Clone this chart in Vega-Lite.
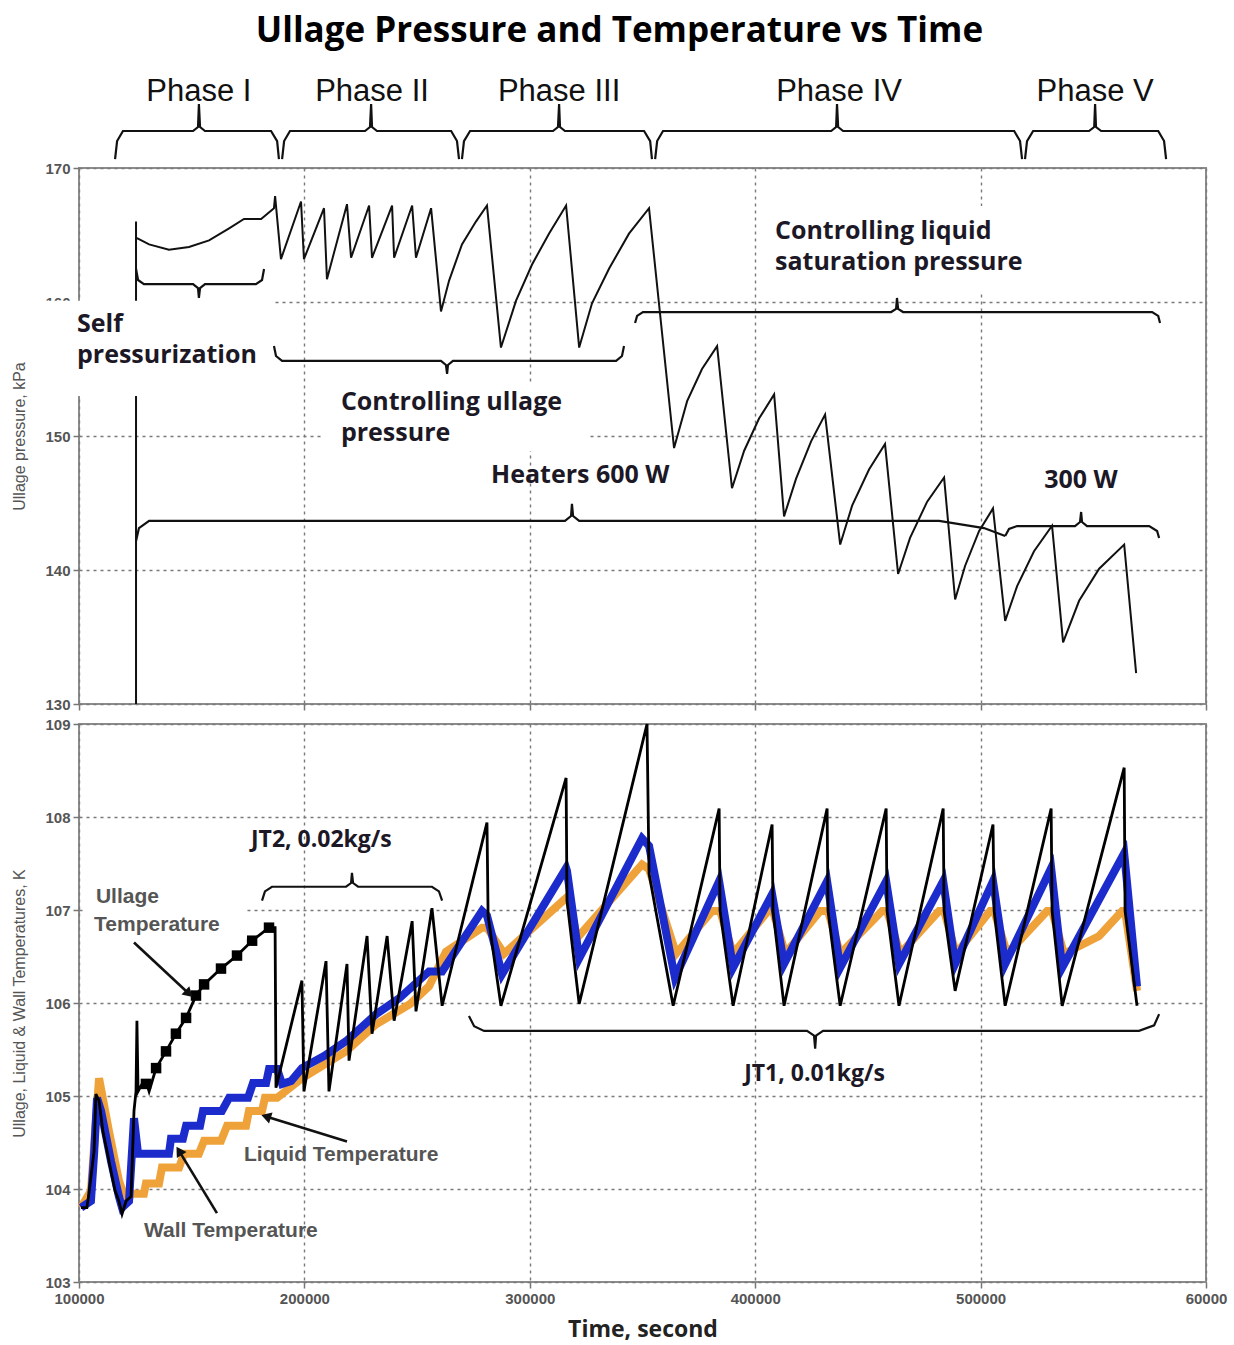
{
  "$schema": "https://vega.github.io/schema/vega-lite/v6.json",
  "title": {"text": "Ullage Pressure and Temperature vs Time", "font": "Open Sans", "fontSize": 35, "fontWeight": "bold", "color": "#000", "anchor": "middle", "offset": 26},
  "padding": {"left": 10, "top": 14, "right": 0, "bottom": 0},
  "bounds": "flush",
  "spacing": 20,
  "config": {
    "view": {"stroke": "#8c8c8c", "strokeWidth": 2},
    "axis": {"domain": false, "grid": true, "gridColor": "#7a7a7a", "gridDash": [3, 4], "gridWidth": 1.4, "tickColor": "#777", "tickSize": 6, "tickWidth": 1.5, "labelFont": "Liberation Sans", "labelFontWeight": "bold", "labelFontSize": 15, "labelColor": "#555", "labelPadding": 3, "titleFont": "Liberation Sans", "titleFontWeight": "normal", "titleFontSize": 16, "titleColor": "#555"}
  },
  "datasets": {
    "pressure": [
      {"t": 125300, "p": 130.0}, {"t": 125300, "p": 166.0}, {"t": 125300, "p": 164.8}, {"t": 131100, "p": 164.3}, {"t": 139900, "p": 163.9}, {"t": 148800, "p": 164.1}, {"t": 157700, "p": 164.6}, {"t": 166600, "p": 165.5}, {"t": 173200, "p": 166.2}, {"t": 180800, "p": 166.2}, {"t": 186500, "p": 167.0}, {"t": 187000, "p": 167.9}, {"t": 189600, "p": 163.2},
      {"t": 198500, "p": 167.5}, {"t": 199800, "p": 163.2}, {"t": 208700, "p": 167.0}, {"t": 210000, "p": 161.7}, {"t": 218900, "p": 167.3}, {"t": 220700, "p": 163.3}, {"t": 228700, "p": 167.2}, {"t": 230000, "p": 163.3}, {"t": 238900, "p": 167.2}, {"t": 239800, "p": 163.3}, {"t": 247800, "p": 167.2}, {"t": 249500, "p": 163.3}, {"t": 256200, "p": 167.0}, {"t": 260600, "p": 159.3},
      {"t": 264200, "p": 161.6}, {"t": 269900, "p": 164.3}, {"t": 276100, "p": 166.0}, {"t": 281000, "p": 167.2}, {"t": 287200, "p": 156.6}, {"t": 293900, "p": 160.1}, {"t": 301000, "p": 162.8}, {"t": 308500, "p": 165.1}, {"t": 316100, "p": 167.2}, {"t": 321900, "p": 156.6}, {"t": 327600, "p": 159.9}, {"t": 335200, "p": 162.5}, {"t": 344000, "p": 165.1}, {"t": 352900, "p": 167.0},
      {"t": 364000, "p": 149.1}, {"t": 369800, "p": 152.6}, {"t": 376400, "p": 155.0}, {"t": 383100, "p": 156.7}, {"t": 389700, "p": 146.1}, {"t": 395100, "p": 148.9}, {"t": 401700, "p": 151.3}, {"t": 408400, "p": 153.1}, {"t": 412800, "p": 144.0}, {"t": 418100, "p": 146.8}, {"t": 424800, "p": 149.6}, {"t": 431000, "p": 151.6},
      {"t": 437700, "p": 141.9}, {"t": 443000, "p": 144.8}, {"t": 450500, "p": 147.5}, {"t": 457600, "p": 149.4}, {"t": 463400, "p": 139.7}, {"t": 468700, "p": 142.4}, {"t": 476300, "p": 145.1}, {"t": 483800, "p": 146.9}, {"t": 488700, "p": 137.8}, {"t": 493100, "p": 140.3}, {"t": 499300, "p": 142.9}, {"t": 505500, "p": 144.6},
      {"t": 510900, "p": 136.2}, {"t": 516200, "p": 138.8}, {"t": 523700, "p": 141.4}, {"t": 531700, "p": 143.3}, {"t": 536600, "p": 134.6}, {"t": 543700, "p": 137.7}, {"t": 552600, "p": 140.1}, {"t": 563700, "p": 141.9}, {"t": 569000, "p": 132.3}
    ],
    "topBoxes": [
      {"t1": 80000, "t2": 186100, "p1": 160.1, "p2": 152.99},
      {"t1": 207400, "t2": 326300, "p1": 153.88, "p2": 148.88},
      {"t1": 403900, "t2": 521500, "p1": 167.16, "p2": 160.67}
    ],
    "topBraces": [
      {"b": "ph1", "t": 116000, "p": 170.67}, {"b": "ph1", "t": 116900, "p": 172.01}, {"b": "ph1", "t": 119500, "p": 172.76}, {"b": "ph1", "t": 150600, "p": 172.76}, {"b": "ph1", "t": 152800, "p": 173.06}, {"b": "ph1", "t": 153200, "p": 174.78}, {"b": "ph1", "t": 153700, "p": 173.06}, {"b": "ph1", "t": 155900, "p": 172.76}, {"b": "ph1", "t": 185200, "p": 172.76}, {"b": "ph1", "t": 187900, "p": 172.01}, {"b": "ph1", "t": 188700, "p": 170.67},
      {"b": "ph2", "t": 190100, "p": 170.67}, {"b": "ph2", "t": 191000, "p": 172.01}, {"b": "ph2", "t": 193600, "p": 172.76}, {"b": "ph2", "t": 226900, "p": 172.76}, {"b": "ph2", "t": 229100, "p": 173.06}, {"b": "ph2", "t": 229600, "p": 174.78}, {"b": "ph2", "t": 230000, "p": 173.06}, {"b": "ph2", "t": 232200, "p": 172.76}, {"b": "ph2", "t": 265100, "p": 172.76}, {"b": "ph2", "t": 267700, "p": 172.01}, {"b": "ph2", "t": 268600, "p": 170.67},
      {"b": "ph3", "t": 269900, "p": 170.67}, {"b": "ph3", "t": 270800, "p": 172.01}, {"b": "ph3", "t": 273500, "p": 172.76}, {"b": "ph3", "t": 310300, "p": 172.76}, {"b": "ph3", "t": 312500, "p": 173.06}, {"b": "ph3", "t": 313000, "p": 174.78}, {"b": "ph3", "t": 313400, "p": 173.06}, {"b": "ph3", "t": 315600, "p": 172.76}, {"b": "ph3", "t": 350700, "p": 172.76}, {"b": "ph3", "t": 353400, "p": 172.01}, {"b": "ph3", "t": 354200, "p": 170.67},
      {"b": "ph4", "t": 355600, "p": 170.67}, {"b": "ph4", "t": 356500, "p": 172.01}, {"b": "ph4", "t": 359100, "p": 172.76}, {"b": "ph4", "t": 433700, "p": 172.76}, {"b": "ph4", "t": 435900, "p": 173.06}, {"b": "ph4", "t": 436300, "p": 174.78}, {"b": "ph4", "t": 436800, "p": 173.06}, {"b": "ph4", "t": 439000, "p": 172.76}, {"b": "ph4", "t": 514900, "p": 172.76}, {"b": "ph4", "t": 517500, "p": 172.01}, {"b": "ph4", "t": 518400, "p": 170.67},
      {"b": "ph5", "t": 519700, "p": 170.67}, {"b": "ph5", "t": 520600, "p": 172.01}, {"b": "ph5", "t": 523300, "p": 172.76}, {"b": "ph5", "t": 548100, "p": 172.76}, {"b": "ph5", "t": 550400, "p": 173.06}, {"b": "ph5", "t": 550800, "p": 174.78}, {"b": "ph5", "t": 551200, "p": 173.06}, {"b": "ph5", "t": 553500, "p": 172.76}, {"b": "ph5", "t": 578800, "p": 172.76}, {"b": "ph5", "t": 581400, "p": 172.01}, {"b": "ph5", "t": 582300, "p": 170.67},
      {"b": "self", "t": 125300, "p": 162.46}, {"b": "self", "t": 126200, "p": 161.64}, {"b": "self", "t": 128800, "p": 161.34}, {"b": "self", "t": 150600, "p": 161.34}, {"b": "self", "t": 152800, "p": 161.04}, {"b": "self", "t": 153200, "p": 160.3}, {"b": "self", "t": 153700, "p": 161.04}, {"b": "self", "t": 155900, "p": 161.34}, {"b": "self", "t": 178500, "p": 161.34}, {"b": "self", "t": 181200, "p": 161.64}, {"b": "self", "t": 182100, "p": 162.46},
      {"b": "ullage", "t": 186500, "p": 156.72}, {"b": "ullage", "t": 187400, "p": 155.97}, {"b": "ullage", "t": 190100, "p": 155.6}, {"b": "ullage", "t": 260600, "p": 155.6}, {"b": "ullage", "t": 262800, "p": 155.3}, {"b": "ullage", "t": 263300, "p": 154.63}, {"b": "ullage", "t": 263700, "p": 155.3}, {"b": "ullage", "t": 265900, "p": 155.6}, {"b": "ullage", "t": 338300, "p": 155.6}, {"b": "ullage", "t": 340900, "p": 155.97}, {"b": "ullage", "t": 341800, "p": 156.72},
      {"b": "liquid", "t": 346700, "p": 158.43}, {"b": "liquid", "t": 347600, "p": 158.96}, {"b": "liquid", "t": 350200, "p": 159.25}, {"b": "liquid", "t": 460300, "p": 159.25}, {"b": "liquid", "t": 462500, "p": 159.48}, {"b": "liquid", "t": 462900, "p": 160.3}, {"b": "liquid", "t": 463400, "p": 159.48}, {"b": "liquid", "t": 465600, "p": 159.25}, {"b": "liquid", "t": 576100, "p": 159.25}, {"b": "liquid", "t": 578800, "p": 158.96}, {"b": "liquid", "t": 579600, "p": 158.43},
      {"b": "heat600", "t": 125300, "p": 142.16}, {"b": "heat600", "t": 126600, "p": 143.13}, {"b": "heat600", "t": 131100, "p": 143.66}, {"b": "heat600", "t": 315600, "p": 143.66}, {"b": "heat600", "t": 318300, "p": 144.03}, {"b": "heat600", "t": 318700, "p": 144.93}, {"b": "heat600", "t": 319200, "p": 144.03}, {"b": "heat600", "t": 321900, "p": 143.66}, {"b": "heat600", "t": 481600, "p": 143.66}, {"b": "heat600", "t": 501500, "p": 143.13}, {"b": "heat600", "t": 510900, "p": 142.54},
      {"b": "heat300", "t": 510900, "p": 142.54}, {"b": "heat300", "t": 512600, "p": 143.06}, {"b": "heat300", "t": 516200, "p": 143.28}, {"b": "heat300", "t": 541900, "p": 143.28}, {"b": "heat300", "t": 544100, "p": 143.58}, {"b": "heat300", "t": 544600, "p": 144.33}, {"b": "heat300", "t": 545000, "p": 143.58}, {"b": "heat300", "t": 547200, "p": 143.28}, {"b": "heat300", "t": 574800, "p": 143.28}, {"b": "heat300", "t": 578300, "p": 142.91}, {"b": "heat300", "t": 579200, "p": 142.39}
    ],
    "phaseLabels": [
      {"label": "Phase I", "t": 153200, "p": 175.0},
      {"label": "Phase II", "t": 230000, "p": 175.0},
      {"label": "Phase III", "t": 313000, "p": 175.0},
      {"label": "Phase IV", "t": 437200, "p": 175.0},
      {"label": "Phase V", "t": 550800, "p": 175.0}
    ],
    "topNotes": [
      {"label": "Self", "t": 99100, "p": 157.76},
      {"label": "pressurization", "t": 99100, "p": 155.45},
      {"label": "Controlling ullage", "t": 216200, "p": 151.94},
      {"label": "pressure", "t": 216200, "p": 149.63},
      {"label": "Heaters 600 W", "t": 282800, "p": 146.51},
      {"label": "Controlling liquid", "t": 408800, "p": 164.7},
      {"label": "saturation pressure", "t": 408800, "p": 162.39},
      {"label": "300 W", "t": 528200, "p": 146.12}
    ],
    "wall": [
      {"t": 100900, "v": 103.8}, {"t": 105300, "v": 103.98}, {"t": 107500, "v": 104.73}, {"t": 108900, "v": 105.19}, {"t": 113300, "v": 104.62}, {"t": 117700, "v": 104.09}, {"t": 120900, "v": 103.87}, {"t": 123500, "v": 103.95}, {"t": 128800, "v": 103.95}, {"t": 129700, "v": 104.06}, {"t": 135500, "v": 104.06}, {"t": 136800, "v": 104.23}, {"t": 144400, "v": 104.23}, {"t": 146600, "v": 104.38}, {"t": 153200, "v": 104.38}, {"t": 155500, "v": 104.52}, {"t": 163000, "v": 104.52}, {"t": 165700, "v": 104.68}, {"t": 174100, "v": 104.68}, {"t": 175400, "v": 104.84}, {"t": 181200, "v": 104.84}, {"t": 182500, "v": 104.98}, {"t": 187900, "v": 104.98},
      {"t": 198900, "v": 105.19}, {"t": 218500, "v": 105.48}, {"t": 231800, "v": 105.77}, {"t": 246900, "v": 105.99}, {"t": 255300, "v": 106.18}, {"t": 262800, "v": 106.55},
      {"t": 278800, "v": 106.81}, {"t": 281000, "v": 106.81}, {"t": 288600, "v": 106.53}, {"t": 316100, "v": 107.13}, {"t": 317400, "v": 107.1}, {"t": 321000, "v": 106.7}, {"t": 349800, "v": 107.49}, {"t": 352900, "v": 107.44}, {"t": 364900, "v": 106.53},
      {"t": 380900, "v": 106.99}, {"t": 384400, "v": 106.99}, {"t": 390200, "v": 106.53}, {"t": 405700, "v": 106.99}, {"t": 407900, "v": 106.99}, {"t": 413300, "v": 106.53}, {"t": 428800, "v": 106.99}, {"t": 432300, "v": 106.99}, {"t": 437700, "v": 106.53}, {"t": 456300, "v": 106.99}, {"t": 458500, "v": 106.99}, {"t": 464300, "v": 106.53}, {"t": 481600, "v": 106.99}, {"t": 483800, "v": 106.99}, {"t": 489100, "v": 106.53}, {"t": 504200, "v": 106.99}, {"t": 506000, "v": 106.99}, {"t": 511800, "v": 106.53}, {"t": 529500, "v": 106.99}, {"t": 531700, "v": 106.99}, {"t": 537000, "v": 106.53}, {"t": 552600, "v": 106.72}, {"t": 562800, "v": 106.99}, {"t": 564100, "v": 106.99}, {"t": 569400, "v": 106.13}
    ],
    "liquid": [
      {"t": 100900, "v": 103.8}, {"t": 105300, "v": 103.87}, {"t": 106700, "v": 104.38}, {"t": 108000, "v": 104.98}, {"t": 109800, "v": 104.84}, {"t": 114200, "v": 104.3}, {"t": 117700, "v": 103.92}, {"t": 119100, "v": 103.8}, {"t": 122200, "v": 103.87}, {"t": 124400, "v": 104.76}, {"t": 126200, "v": 104.38}, {"t": 139900, "v": 104.38}, {"t": 140800, "v": 104.54}, {"t": 146100, "v": 104.54}, {"t": 147500, "v": 104.68}, {"t": 153700, "v": 104.68}, {"t": 155000, "v": 104.84}, {"t": 163400, "v": 104.84}, {"t": 166600, "v": 104.98}, {"t": 175000, "v": 104.98}, {"t": 177200, "v": 105.14}, {"t": 183000, "v": 105.14}, {"t": 184300, "v": 105.29}, {"t": 187900, "v": 105.29},
      {"t": 190100, "v": 105.13}, {"t": 194100, "v": 105.16}, {"t": 198900, "v": 105.3}, {"t": 208700, "v": 105.43}, {"t": 218500, "v": 105.59}, {"t": 231800, "v": 105.88}, {"t": 242000, "v": 106.05}, {"t": 255300, "v": 106.34}, {"t": 261100, "v": 106.34},
      {"t": 278800, "v": 106.99}, {"t": 281000, "v": 106.94}, {"t": 287700, "v": 106.31}, {"t": 316100, "v": 107.45}, {"t": 316500, "v": 107.42}, {"t": 321900, "v": 106.48}, {"t": 349800, "v": 107.77}, {"t": 352900, "v": 107.69}, {"t": 364400, "v": 106.27},
      {"t": 384000, "v": 107.31}, {"t": 390200, "v": 106.38}, {"t": 407500, "v": 107.17}, {"t": 412800, "v": 106.42}, {"t": 431900, "v": 107.31}, {"t": 437700, "v": 106.38}, {"t": 458100, "v": 107.31}, {"t": 463800, "v": 106.42}, {"t": 483400, "v": 107.31}, {"t": 488700, "v": 106.42}, {"t": 505500, "v": 107.31}, {"t": 510900, "v": 106.42}, {"t": 531300, "v": 107.45}, {"t": 536200, "v": 106.38}, {"t": 563700, "v": 107.61}, {"t": 569400, "v": 106.18}
    ],
    "ullage": [
      {"t": 100900, "v": 103.8}, {"t": 103500, "v": 103.8}, {"t": 104400, "v": 103.95}, {"t": 106700, "v": 104.41}, {"t": 107500, "v": 105.02}, {"t": 108900, "v": 104.95}, {"t": 110600, "v": 104.62}, {"t": 112400, "v": 104.41}, {"t": 114200, "v": 104.19}, {"t": 116000, "v": 103.98}, {"t": 117700, "v": 103.87}, {"t": 119100, "v": 103.73}, {"t": 120900, "v": 103.87}, {"t": 123100, "v": 103.92}, {"t": 124400, "v": 104.84}, {"t": 125300, "v": 105.05}, {"t": 125700, "v": 105.81}, {"t": 126200, "v": 105.05}, {"t": 128000, "v": 105.13}, {"t": 129700, "v": 105.16}, {"t": 131100, "v": 105.05},
      {"t": 134200, "v": 105.3}, {"t": 138600, "v": 105.48}, {"t": 143000, "v": 105.67}, {"t": 147500, "v": 105.84}, {"t": 151900, "v": 106.08}, {"t": 155500, "v": 106.2}, {"t": 163000, "v": 106.37}, {"t": 170100, "v": 106.51}, {"t": 176800, "v": 106.67}, {"t": 184300, "v": 106.81}, {"t": 187000, "v": 106.81}, {"t": 187400, "v": 105.09},
      {"t": 198900, "v": 106.24}, {"t": 199800, "v": 105.05}, {"t": 209600, "v": 106.45}, {"t": 210900, "v": 105.05}, {"t": 218900, "v": 106.42}, {"t": 219800, "v": 105.38}, {"t": 227800, "v": 106.72}, {"t": 230000, "v": 105.67}, {"t": 236700, "v": 106.72}, {"t": 239800, "v": 105.81}, {"t": 247800, "v": 106.88}, {"t": 249500, "v": 105.91}, {"t": 256600, "v": 107.02}, {"t": 261100, "v": 105.97},
      {"t": 281000, "v": 107.94}, {"t": 281500, "v": 106.94}, {"t": 287200, "v": 105.97}, {"t": 316100, "v": 108.42}, {"t": 316500, "v": 107.1}, {"t": 321900, "v": 105.99}, {"t": 352000, "v": 109.0}, {"t": 352900, "v": 107.39}, {"t": 363600, "v": 105.97},
      {"t": 384000, "v": 108.09}, {"t": 384400, "v": 106.99}, {"t": 390200, "v": 105.97}, {"t": 407500, "v": 107.92}, {"t": 407900, "v": 106.99}, {"t": 412800, "v": 105.97}, {"t": 431900, "v": 108.09}, {"t": 432300, "v": 106.99}, {"t": 437700, "v": 105.97}, {"t": 458100, "v": 108.09}, {"t": 458500, "v": 106.99}, {"t": 463800, "v": 105.97}, {"t": 483400, "v": 108.09}, {"t": 483800, "v": 106.99}, {"t": 488700, "v": 106.13}, {"t": 505500, "v": 107.92}, {"t": 506000, "v": 106.99}, {"t": 510900, "v": 105.97}, {"t": 531300, "v": 108.09}, {"t": 531700, "v": 106.99}, {"t": 536200, "v": 105.97}, {"t": 563700, "v": 108.53}, {"t": 564100, "v": 106.99}, {"t": 569400, "v": 105.97}
    ],
    "ullageSteps": [
      {"t": 129700, "v": 105.13}, {"t": 134200, "v": 105.3}, {"t": 138600, "v": 105.48}, {"t": 143000, "v": 105.67}, {"t": 147500, "v": 105.84}, {"t": 151900, "v": 106.08}, {"t": 155500, "v": 106.2}, {"t": 163000, "v": 106.37}, {"t": 170100, "v": 106.51}, {"t": 176800, "v": 106.67}, {"t": 184300, "v": 106.81}
    ],
    "bottomBoxes": [
      {"t1": 102200, "t2": 174500, "v1": 107.31, "v2": 106.69}
    ],
    "bottomBraces": [
      {"b": "jt2", "t": 181200, "v": 107.1}, {"b": "jt2", "t": 182500, "v": 107.2}, {"b": "jt2", "t": 185600, "v": 107.25}, {"b": "jt2", "t": 218500, "v": 107.25}, {"b": "jt2", "t": 220700, "v": 107.29}, {"b": "jt2", "t": 221100, "v": 107.4}, {"b": "jt2", "t": 221600, "v": 107.29}, {"b": "jt2", "t": 223800, "v": 107.25}, {"b": "jt2", "t": 256600, "v": 107.25}, {"b": "jt2", "t": 259700, "v": 107.2}, {"b": "jt2", "t": 261100, "v": 107.1},
      {"b": "jt1", "t": 273000, "v": 105.86}, {"b": "jt1", "t": 275300, "v": 105.75}, {"b": "jt1", "t": 279700, "v": 105.7}, {"b": "jt1", "t": 423000, "v": 105.7}, {"b": "jt1", "t": 426100, "v": 105.65}, {"b": "jt1", "t": 426600, "v": 105.51}, {"b": "jt1", "t": 427000, "v": 105.65}, {"b": "jt1", "t": 430100, "v": 105.7}, {"b": "jt1", "t": 570300, "v": 105.7}, {"b": "jt1", "t": 577000, "v": 105.76}, {"b": "jt1", "t": 579200, "v": 105.88}
    ],
    "arrows": [
      {"a": "ullage", "t": 124400, "v": 106.65}, {"a": "ullage", "t": 148800, "v": 106.1},
      {"a": "liquid", "t": 218900, "v": 104.51}, {"a": "liquid", "t": 183000, "v": 104.78},
      {"a": "wall", "t": 161200, "v": 103.74}, {"a": "wall", "t": 144400, "v": 104.41}
    ],
    "arrowTips": [
      {"a": "ullage", "t": 148800, "v": 106.1},
      {"a": "liquid", "t": 183000, "v": 104.78},
      {"a": "wall", "t": 144400, "v": 104.41}
    ],
    "bottomNotesBold": [
      {"label": "JT2, 0.02kg/s", "t": 176300, "v": 107.68},
      {"label": "JT1, 0.01kg/s", "t": 395100, "v": 105.16}
    ],
    "bottomNotesGray": [
      {"label": "Ullage", "t": 107500, "v": 107.08},
      {"label": "Temperature", "t": 106700, "v": 106.77},
      {"label": "Liquid Temperature", "t": 173200, "v": 104.3},
      {"label": "Wall Temperature", "t": 128800, "v": 103.48}
    ]
  },
  "vconcat": [
    {
      "width": 1127,
      "height": 536,
      "layer": [
        {
          "data": {"name": "pressure"},
          "mark": {"type": "line", "color": "#111", "strokeWidth": 2},
          "encoding": {
            "x": {"field": "t", "type": "quantitative", "scale": {"domain": [100000, 600000], "nice": false, "zero": false}, "axis": {"values": [100000, 200000, 300000, 400000, 500000, 600000], "labels": false, "title": null}},
            "y": {"field": "p", "type": "quantitative", "scale": {"domain": [130, 170], "nice": false, "zero": false}, "axis": {"values": [130, 140, 150, 160, 170], "format": "d", "title": "Ullage pressure, kPa", "titlePadding": 17}},
            "order": {"value": null}
          }
        },
        {
          "data": {"name": "topBoxes"},
          "mark": {"type": "rect", "fill": "white"},
          "encoding": {
            "x": {"field": "t1", "type": "quantitative"}, "x2": {"field": "t2"},
            "y": {"field": "p1", "type": "quantitative"}, "y2": {"field": "p2"}
          }
        },
        {
          "data": {"name": "topBraces"},
          "mark": {"type": "line", "color": "#111", "strokeWidth": 2.2},
          "encoding": {
            "x": {"field": "t", "type": "quantitative"},
            "y": {"field": "p", "type": "quantitative"},
            "detail": {"field": "b"},
            "order": {"value": null}
          }
        },
        {
          "data": {"name": "phaseLabels"},
          "mark": {"type": "text", "font": "Liberation Sans", "fontSize": 31, "align": "center", "baseline": "alphabetic", "color": "#111"},
          "encoding": {
            "x": {"field": "t", "type": "quantitative"},
            "y": {"field": "p", "type": "quantitative"},
            "text": {"field": "label"}
          }
        },
        {
          "data": {"name": "topNotes"},
          "mark": {"type": "text", "font": "Open Sans", "fontWeight": "bold", "fontSize": 25, "align": "left", "baseline": "alphabetic", "color": "#1c1826"},
          "encoding": {
            "x": {"field": "t", "type": "quantitative"},
            "y": {"field": "p", "type": "quantitative"},
            "text": {"field": "label"}
          }
        }
      ]
    },
    {
      "width": 1127,
      "height": 558,
      "layer": [
        {
          "data": {"name": "wall"},
          "mark": {"type": "line", "color": "#f0a23a", "strokeWidth": 8, "strokeJoin": "miter"},
          "encoding": {
            "x": {"field": "t", "type": "quantitative", "scale": {"domain": [100000, 600000], "nice": false, "zero": false}, "axis": {"values": [100000, 200000, 300000, 400000, 500000, 600000], "format": "d", "labelExpr": "datum.value == 600000 ? '60000' : datum.label", "labelFlush": false, "title": "Time, second", "titleFont": "Open Sans", "titleFontWeight": "bold", "titleFontSize": 23, "titleColor": "#222", "titlePadding": 12}},
            "y": {"field": "v", "type": "quantitative", "scale": {"domain": [103, 109], "nice": false, "zero": false}, "axis": {"values": [103, 104, 105, 106, 107, 108, 109], "format": "d", "title": "Ullage, Liquid & Wall Temperatures, K", "titlePadding": 17}},
            "order": {"value": null}
          }
        },
        {
          "data": {"name": "liquid"},
          "mark": {"type": "line", "color": "#1c2ccc", "strokeWidth": 8, "strokeJoin": "miter"},
          "encoding": {
            "x": {"field": "t", "type": "quantitative"},
            "y": {"field": "v", "type": "quantitative"},
            "order": {"value": null}
          }
        },
        {
          "data": {"name": "ullage"},
          "mark": {"type": "line", "color": "#000", "strokeWidth": 2.8},
          "encoding": {
            "x": {"field": "t", "type": "quantitative"},
            "y": {"field": "v", "type": "quantitative"},
            "order": {"value": null}
          }
        },
        {
          "data": {"name": "ullageSteps"},
          "mark": {"type": "point", "shape": "square", "filled": true, "color": "#000", "size": 110, "opacity": 1},
          "encoding": {
            "x": {"field": "t", "type": "quantitative"},
            "y": {"field": "v", "type": "quantitative"}
          }
        },
        {
          "data": {"name": "bottomBoxes"},
          "mark": {"type": "rect", "fill": "white"},
          "encoding": {
            "x": {"field": "t1", "type": "quantitative"}, "x2": {"field": "t2"},
            "y": {"field": "v1", "type": "quantitative"}, "y2": {"field": "v2"}
          }
        },
        {
          "data": {"name": "bottomBraces"},
          "mark": {"type": "line", "color": "#111", "strokeWidth": 2.2},
          "encoding": {
            "x": {"field": "t", "type": "quantitative"},
            "y": {"field": "v", "type": "quantitative"},
            "detail": {"field": "b"},
            "order": {"value": null}
          }
        },
        {
          "data": {"name": "arrows"},
          "mark": {"type": "line", "color": "#111", "strokeWidth": 2.6},
          "encoding": {
            "x": {"field": "t", "type": "quantitative"},
            "y": {"field": "v", "type": "quantitative"},
            "detail": {"field": "a"},
            "order": {"value": null}
          }
        },
        {
          "data": {"name": "arrowTips"},
          "transform": [{"filter": {"field": "a", "equal": "ullage"}}],
          "mark": {"type": "point", "shape": "triangle-up", "filled": true, "color": "#111", "size": 130, "opacity": 1, "angle": 133},
          "encoding": {"x": {"field": "t", "type": "quantitative"}, "y": {"field": "v", "type": "quantitative"}}
        },
        {
          "data": {"name": "arrowTips"},
          "transform": [{"filter": {"field": "a", "equal": "liquid"}}],
          "mark": {"type": "point", "shape": "triangle-up", "filled": true, "color": "#111", "size": 130, "opacity": 1, "angle": 288},
          "encoding": {"x": {"field": "t", "type": "quantitative"}, "y": {"field": "v", "type": "quantitative"}}
        },
        {
          "data": {"name": "arrowTips"},
          "transform": [{"filter": {"field": "a", "equal": "wall"}}],
          "mark": {"type": "point", "shape": "triangle-up", "filled": true, "color": "#111", "size": 130, "opacity": 1, "angle": 328},
          "encoding": {"x": {"field": "t", "type": "quantitative"}, "y": {"field": "v", "type": "quantitative"}}
        },
        {
          "data": {"name": "bottomNotesBold"},
          "mark": {"type": "text", "font": "Open Sans", "fontWeight": "bold", "fontSize": 23, "align": "left", "baseline": "alphabetic", "color": "#1c1826"},
          "encoding": {
            "x": {"field": "t", "type": "quantitative"},
            "y": {"field": "v", "type": "quantitative"},
            "text": {"field": "label"}
          }
        },
        {
          "data": {"name": "bottomNotesGray"},
          "mark": {"type": "text", "font": "Liberation Sans", "fontWeight": "bold", "fontSize": 21, "align": "left", "baseline": "alphabetic", "color": "#555"},
          "encoding": {
            "x": {"field": "t", "type": "quantitative"},
            "y": {"field": "v", "type": "quantitative"},
            "text": {"field": "label"}
          }
        }
      ]
    }
  ]
}
